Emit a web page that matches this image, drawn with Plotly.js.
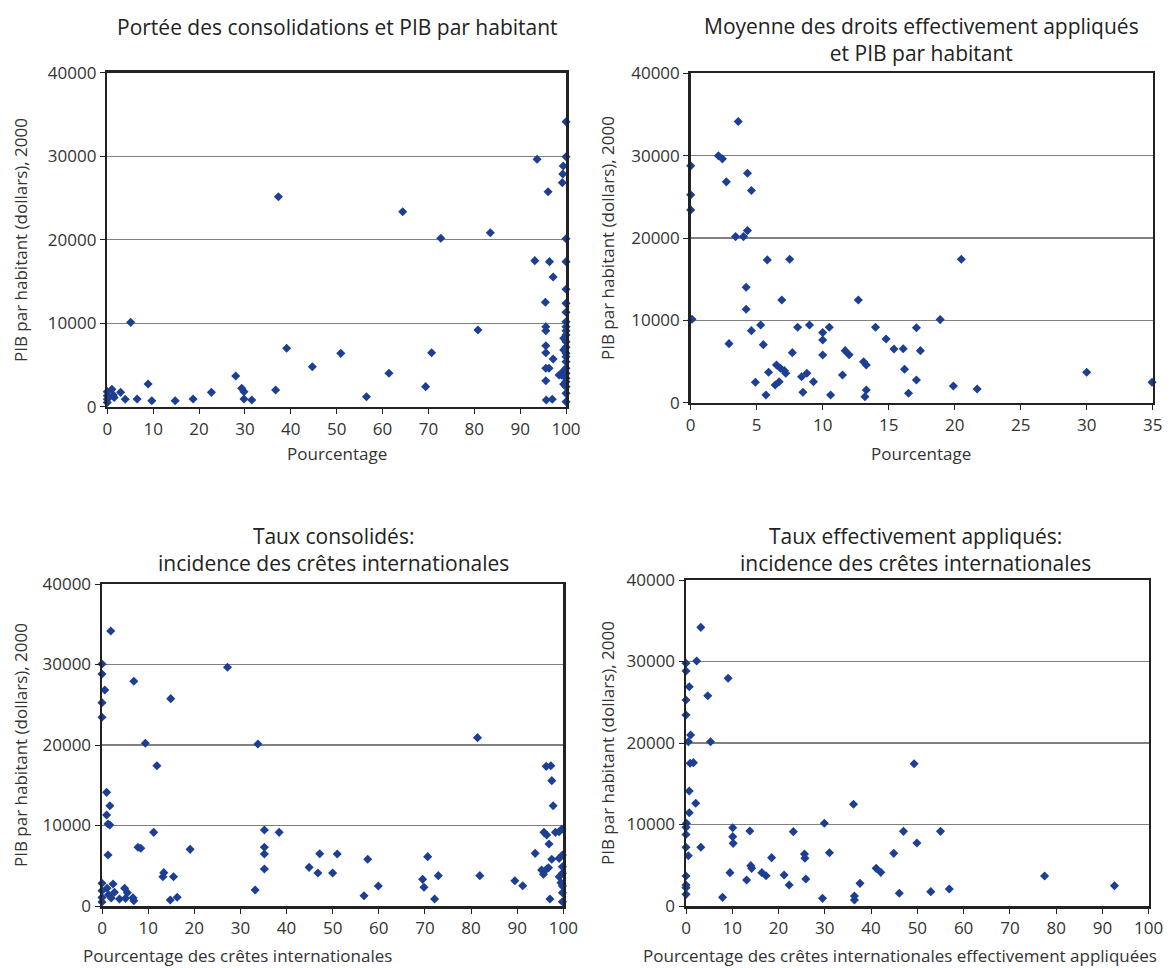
<!DOCTYPE html>
<html>
<head>
<meta charset="utf-8">
<script src="https://cdn.plot.ly/plotly-3.0.1.min.js"></script>
<style>html,body{margin:0;padding:0;background:#fff;}#chart{width:1170px;height:968px;}</style>
</head>
<body>
<div id="chart"></div>
<script>
// ---- Data ----
// Panel 1: Portée des consolidations (%) vs PIB par habitant
const x1 = [0,0,0,0,1,1.3,1.5,2.9,3.9,6.5,8.9,9.7,14.8,18.7,22.7,28,29.3,29.8,29.8,31.5,36.7,5.1,37.3,39.1,44.7,50.9,56.5,61.4,69.4,70.7,80.8,64.4,72.7,83.5,93.7,96.1,93.2,96.4,97.2,95.5,95.6,95.6,95.6,95.6,97.2,95.6,96.3,95.6,95.7,97,98.5,
  100,100,99.4,99.3,99.2,100,100,100,100,100,100,100,100,100,100,100,100,100,100,100,100,100,100,100,100,100,99.5,99.5,99.5,99.5,99];
const y1 = [1800,1300,890,500,2080,1400,1100,1720,890,920,2720,720,720,920,1720,3680,2200,1800,920,800,2000,10100,25150,7000,4790,6390,1200,4000,2400,6470,9190,23350,20170,20840,29630,25750,17490,17370,15530,12500,9580,9100,7300,6470,5710,4600,4600,3110,800,890,3800,
  34130,29940,28830,27870,26830,20120,17370,14060,12380,11310,10180,9580,9100,8590,7790,7110,6390,5990,5390,4600,4000,3400,3000,2400,1600,600,8200,6800,4300,2700,3800];

// Panel 2: Moyenne des droits effectivement appliqués (%) vs PIB par habitant
const x2 = [0,0,0,0.1,2.1,2.4,2.7,2.9,3.6,3.4,4.0,4.3,4.3,4.6,4.2,4.2,4.6,4.9,5.3,5.5,5.7,5.8,5.9,6.4,6.5,6.7,6.9,6.8,7.1,7.2,7.5,7.7,8.1,8.4,8.5,8.8,9.0,9.3,10.0,10.0,10.0,10.5,10.6,11.5,11.7,12.0,12.7,13.1,13.3,13.3,13.2,14.0,14.8,15.4,16.1,17.1,17.4,16.2,17.1,16.5,18.9,20.5,19.9,21.7,30.0,34.95];
const y2 = [28760,25240,23410,10130,29980,29610,26820,7170,34140,20170,20170,20900,27870,25760,14020,11350,8750,2480,9440,7050,940,17340,3690,2150,4580,2550,12480,4180,3890,3570,17420,6080,9160,3160,1260,3570,9440,2550,5800,8510,7620,9160,940,3370,6320,5830,12480,4980,4580,1540,730,9160,7740,6530,6560,9110,6320,4060,2760,1140,10090,17420,2030,1660,3690,2480];

// Panel 3: Taux consolidés — pourcentage des crêtes internationales
const x3 = [1.9,0,0,0.6,0,0,6.9,14.9,9.4,11.9,1.0,1.7,1.0,1.3,1.7,11.2,1.3,7.8,8.4,19.1,13.4,13.2,15.5,14.8,16.3,0,2.4,0,1.1,2.7,0,1.4,3.8,4.9,5.5,5.1,6.7,6.9,0,2,33.2,33.8,27.2,35.2,35.2,35.2,35.2,38.4,44.9,46.8,47.2,50.0,51.0,56.8,57.6,59.9,69.5,69.8,70.6,72.9,72.1,81.4,81.9,89.5,91.2,93.9,96.3,97.3,97.5,97.8,95.8,96.4,96.9,95.3,95.7,96.4,96.8,97.5,97.1,98.3,99.1,99.7,99.1,99.8,99.1,99.8,99.8,99.8,99.8,99.8,99.5];
const y3 = [34160,30060,28820,26830,25260,23440,27910,25760,20210,17430,14120,12460,11300,10190,10060,9150,6340,7290,7170,7040,4140,3640,3640,750,1080,2820,2730,1900,2200,1700,1070,1400,870,2200,1660,950,1030,660,500,1000,1990,20120,29650,9440,7290,6460,4600,9150,4800,4100,6500,4100,6460,1280,5800,2480,3310,2320,6130,3770,870,20910,3770,3140,2520,6540,17350,17430,15570,12460,9150,8820,7700,4470,3940,4600,4760,5800,870,9150,9230,9570,5920,6340,3640,4880,4060,2480,1650,530,2900];

// Panel 4: Taux effectivement appliqués — pourcentage des crêtes internationales effectivement appliquées
const x4 = [3.2,2.3,0,0,9.1,0.7,4.7,0,0,1.0,0.5,5.3,0.9,1.6,0.7,2.1,0.7,0.1,0,0,10.1,10.1,10.2,13.8,0,3.2,0.5,18.5,14.0,14.2,9.5,16.4,17.3,13.1,0,0,0,0,7.9,21.2,22.3,23.2,25.6,25.7,25.9,29.9,31.0,29.5,36.2,36.4,36.4,37.6,41.1,42.1,44.9,46.1,47.0,49.3,49.9,52.9,55.0,56.9,77.5,92.6];
const y4 = [34190,30060,29780,28830,27940,26910,25800,25280,23440,20980,20160,20160,17510,17590,14110,12600,11450,10140,9650,8780,9610,8510,7690,9200,7200,7200,6170,5930,4950,4620,4090,4090,3720,3190,3680,2580,2250,1430,1060,3800,2580,9120,6380,5850,3310,10150,6540,940,12480,1230,740,2780,4620,4130,6460,1560,9160,17460,7730,1760,9160,2090,3680,2490];

const yTicks = [0,10000,20000,30000,40000];
const yTickText = ['0','10000','20000','30000','40000'];

// ---- Layout helpers ----
const W = 1170, H = 968;
const FONT = '"Open Sans", "Noto Sans", sans-serif';
const panels = [
  {x0:107.3, x1:566,    y0:72.7, y1:406.7, xmax:100, dtick:10},
  {x0:690.7, x1:1152.7, y0:73.3, y1:402.7, xmax:35,  dtick:5},
  {x0:102,   x1:563.3,  y0:584,  y1:906,   xmax:100, dtick:10},
  {x0:686,   x1:1148.7, y0:580,  y1:906,   xmax:100, dtick:10}
];
const xs = [x1,x2,x3,x4], ys = [y1,y2,y3,y4];

const traces = [];
const layout = {
  width: W, height: H,
  margin: {l:0, r:0, t:0, b:0},
  paper_bgcolor: '#fff', plot_bgcolor: '#fff',
  showlegend: false,
  font: {family: FONT, color: '#333'},
  annotations: []
};

panels.forEach((p, i) => {
  const n = i === 0 ? '' : String(i+1);
  traces.push({
    type: 'scatter', mode: 'markers',
    x: xs[i], y: ys[i],
    xaxis: 'x' + n, yaxis: 'y' + n,
    cliponaxis: false,
    marker: {symbol: 'diamond', size: 7, color: '#1d3f93', line: {width: 0}},
    hoverinfo: 'x+y'
  });
  const common = {
    showline: true, mirror: true, linecolor: '#222', linewidth: 2.5,
    ticks: 'outside', ticklen: 5, tickcolor: '#222', tickwidth: 1,
    tickfont: {size: 17, color: '#333', family: FONT},
    zeroline: false
  };
  layout['xaxis' + n] = Object.assign({}, common, {
    domain: [p.x0 / W, p.x1 / W],
    range: [0, p.xmax], dtick: p.dtick, tick0: 0,
    showgrid: false,
    anchor: 'y' + n
  });
  layout['yaxis' + n] = Object.assign({}, common, {
    domain: [1 - p.y1 / H, 1 - p.y0 / H],
    range: [0, 40000],
    tickvals: yTicks, ticktext: yTickText,
    showgrid: true, gridcolor: '#808080', gridwidth: 1.2,
    anchor: 'x' + n
  });
});

function ann(text, px, py, opts) {
  return Object.assign({
    text: text, xref: 'paper', yref: 'paper',
    x: px / W, y: 1 - py / H,
    xanchor: 'center', yanchor: 'middle',
    showarrow: false,
    font: {size: 21, color: '#222', family: FONT}
  }, opts || {});
}

// Panel titles
layout.annotations.push(ann('Portée des consolidations et PIB par habitant', 337, 27));
layout.annotations.push(ann('Moyenne des droits effectivement appliqués<br>et PIB par habitant', 921, 39));
layout.annotations.push(ann('Taux consolidés:<br>incidence des crêtes internationales', 333, 549));
layout.annotations.push(ann('Taux effectivement appliqués:<br>incidence des crêtes internationales', 915, 549));

// Axis titles
const axFont = {size: 17, color: '#333', family: FONT};
layout.annotations.push(ann('Pourcentage', 337, 453, {font: axFont}));
layout.annotations.push(ann('Pourcentage', 921, 453, {font: axFont}));
layout.annotations.push(ann('Pourcentage des crêtes internationales', 237, 955, {font: axFont}));
layout.annotations.push(ann('Pourcentage des crêtes internationales effectivement appliquées', 900, 955, {font: axFont}));

layout.annotations.push(ann('PIB par habitant (dollars), 2000', 20, 240, {font: axFont, textangle: -90}));
layout.annotations.push(ann('PIB par habitant (dollars), 2000', 607, 238, {font: axFont, textangle: -90}));
layout.annotations.push(ann('PIB par habitant (dollars), 2000', 20, 745, {font: axFont, textangle: -90}));
layout.annotations.push(ann('PIB par habitant (dollars), 2000', 607, 743, {font: axFont, textangle: -90}));

Plotly.newPlot('chart', traces, layout, {displayModeBar: false, staticPlot: true});
</script>
</body>
</html>
